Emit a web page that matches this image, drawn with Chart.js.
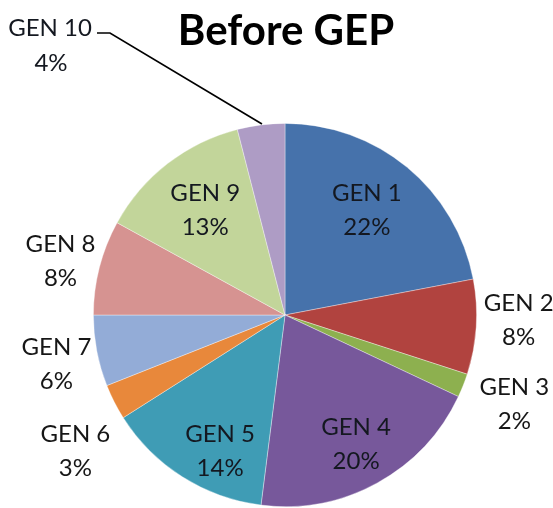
<!DOCTYPE html>
<html>
<head>
<meta charset="utf-8">
<script src="https://cdn.jsdelivr.net/npm/chart.js@4"></script>
<style>
  html, body { margin: 0; padding: 0; background: #fff; }
  #wrap { width: 553px; height: 508px; }
</style>
</head>
<body>
<div id="wrap"><canvas id="pieChart" width="553" height="508"></canvas></div>
<script>
// data
var labelList = ['GEN 1', 'GEN 2', 'GEN 3', 'GEN 4', 'GEN 5', 'GEN 6', 'GEN 7', 'GEN 8', 'GEN 9', 'GEN 10'];
var valueList = [22, 8, 2, 20, 14, 3, 6, 8, 13, 4];
var colorList = ['#4672AB', '#B1433F', '#8DB04F', '#77589B', '#3F9CB5', '#E8883B', '#93ACD7', '#D69391', '#C2D59A', '#AE9CC5'];

// label placement: fraction of radius from the centre (0 = leader line) and angle nudge in degrees
var labelDist = [0.694, 1.22, 1.284, 0.77, 0.79, 1.306, 1.22, 1.205, 0.687, 0];
var labelTurn = [-1.6, -2.4, -0.4, 0, -7, -6.1, -1.3, -0.9, 0.5, 0];

var FONT = 'Lato, "Open Sans", sans-serif';

var labelPlugin = {
    id: 'pieLabels',
    afterDraw: function(chart) {
        var ctx = chart.ctx;
        var arcs = chart.getDatasetMeta(0).data;
        var total = valueList.reduce(function(a, b) { return a + b; }, 0);

        ctx.save();
        // title
        ctx.fillStyle = '#000';
        ctx.font = 'bold 42px ' + FONT;
        ctx.textAlign = 'center';
        ctx.textBaseline = 'alphabetic';
        ctx.fillText('Before GEP', 286, 45);

        ctx.font = '24px ' + FONT;
        ctx.textBaseline = 'middle';
        for (var i = 0; i < arcs.length; i++) {
            var a = arcs[i];
            var mid = (a.startAngle + a.endAngle) / 2 + labelTurn[i] * Math.PI / 180;
            var pct = Math.round(valueList[i] / total * 100) + '%';
            ctx.fillStyle = labelDist[i] < 1 ? '#141820' : '#161616';
            if (labelDist[i] > 0) {
                var x = a.x + Math.cos(mid) * a.outerRadius * labelDist[i];
                var y = a.y + Math.sin(mid) * a.outerRadius * labelDist[i];
                ctx.fillText(labelList[i], x, y - 17);
                ctx.fillText(pct, x, y + 17);
            } else {
                // leader line out to the upper left
                var ex = a.x + Math.cos(mid) * a.outerRadius;
                var ey = a.y + Math.sin(mid) * a.outerRadius;
                ctx.strokeStyle = '#000';
                ctx.lineWidth = 1.7;
                ctx.beginPath();
                ctx.moveTo(ex + 1, ey - 1);
                ctx.lineTo(110, 33);
                ctx.lineTo(97, 33);
                ctx.stroke();
                ctx.fillText(labelList[i], 50, 28);
                ctx.fillText(pct, 51, 63);
            }
        }
        ctx.restore();
    }
};

var data = {
    labels: labelList,
    datasets: [{
        data: valueList,
        backgroundColor: colorList,
        borderColor: 'rgba(255,255,255,0.45)',
        borderWidth: 0.8
    }]
};

var config = {
    type: 'pie',
    data: data,
    options: {
        responsive: false,
        animation: false,
        layout: {
            padding: { top: 123, bottom: 1, left: 93, right: 76 }
        },
        plugins: {
            legend: { display: false },
            title: { display: false },
            tooltip: { enabled: false }
        }
    },
    plugins: [labelPlugin]
};

var ctx1 = document.getElementById('pieChart').getContext('2d');
new Chart(ctx1, config);
</script>
</body>
</html>
